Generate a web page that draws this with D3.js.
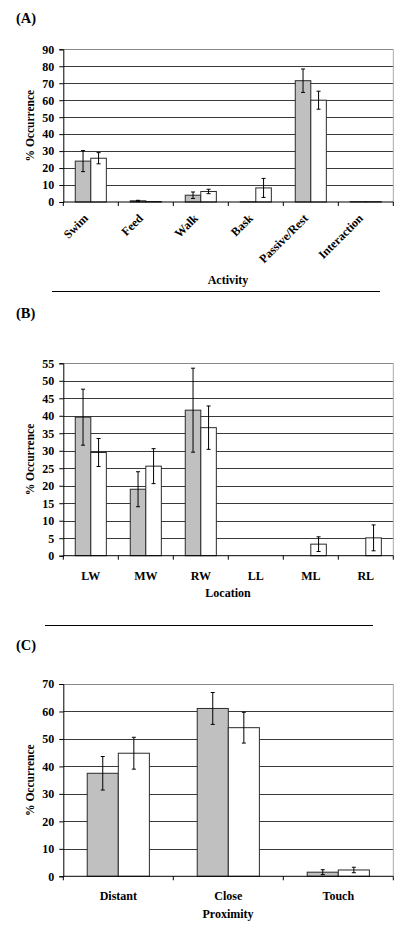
<!DOCTYPE html>
<html>
<head>
<meta charset="utf-8">
<script src="https://cdn.jsdelivr.net/npm/d3@7"></script>
<style>
  body { margin: 0; background: #fff; }
  svg text { font-family: "Liberation Serif", serif; font-weight: bold; fill: #000; }
</style>
</head>
<body>
<script>
// panel A - activity
var activityCats = ["Swim", "Feed", "Walk", "Bask", "Passive/Rest", "Interaction"];
var activityGrey = [24.1, 0.7, 4.0, 0.1, 71.5, 0.2];
var activityGreyErr = [6.2, 0.3, 1.9, 0, 6.9, 0];
var activityWhite = [25.8, 0.3, 6.2, 8.3, 60.0, 0.2];
var activityWhiteErr = [3.3, 0, 1.3, 5.6, 5.3, 0];
var activityTicks = [0, 10, 20, 30, 40, 50, 60, 70, 80, 90];

// panel B - location
var locationCats = ["LW", "MW", "RW", "LL", "ML", "RL"];
var locationGrey = [39.6, 19.0, 41.6, 0, 0, 0];
var locationGreyErr = [8.0, 5.0, 12.0, 0, 0, 0];
var locationWhite = [29.5, 25.6, 36.6, 0, 3.3, 5.1];
var locationWhiteErr = [4.0, 5.0, 6.2, 0, 2.1, 3.7];
var locationTicks = [0, 5, 10, 15, 20, 25, 30, 35, 40, 45, 50, 55];

// panel C - proximity
var proximityCats = ["Distant", "Close", "Touch"];
var proximityGrey = [37.5, 61.1, 1.5];
var proximityGreyErr = [6.1, 5.8, 0.9];
var proximityWhite = [44.8, 54.1, 2.3];
var proximityWhiteErr = [5.8, 5.6, 1.0];
var proximityTicks = [0, 10, 20, 30, 40, 50, 60, 70];

var svg = d3.select("body").append("svg").attr("width", 409).attr("height", 931)
  .attr("font-family", "Liberation Serif");

function drawPanel(p) {
  var g = svg.append("g");

  var x = d3.scaleBand().domain(p.cats).range([63.3, 393.3]).padding(0);
  var y = d3.scaleLinear().domain([0, p.ticks[p.ticks.length - 1]]).range([p.bottom, p.top]);
  var bw = x.bandwidth();
  var sub = d3.scaleBand().domain(["grey", "white"]).range([bw * 0.2175, bw * 0.7825]);

  g.append("text").attr("x", 16).attr("y", p.letterY).attr("font-size", 14.5).text(p.letter);

  // gridlines
  g.selectAll("line.grid").data(p.ticks.slice(1)).enter().append("line")
    .attr("class", "grid")
    .attr("x1", 63.3).attr("x2", 393.3)
    .attr("y1", function(d){ return Math.round(y(d)) + 0.5; })
    .attr("y2", function(d){ return Math.round(y(d)) + 0.5; })
    .attr("stroke", function(d, i){ return i == p.ticks.length - 2 ? "#888" : "#3a3a3a"; })
    .attr("stroke-width", 1);

  // right border
  g.append("line").attr("x1", 393.3).attr("x2", 393.3).attr("y1", p.top).attr("y2", p.bottom)
    .attr("stroke", "#aaa");

  // bars
  var rows = p.cats.map(function(c, i){
    return [{cat: c, key: "grey", v: p.grey[i], e: p.greyErr[i]},
            {cat: c, key: "white", v: p.white[i], e: p.whiteErr[i]}];
  });
  var flat = [].concat.apply([], rows);

  g.selectAll("rect.bar").data(flat).enter().append("rect")
    .attr("class", "bar")
    .attr("x", function(d){ return x(d.cat) + sub(d.key); })
    .attr("y", function(d){ return y(d.v); })
    .attr("width", sub.bandwidth())
    .attr("height", function(d){ return y(0) - y(d.v); })
    .attr("fill", function(d){ return d.key == "grey" ? "#c0c0c0" : "#fff"; })
    .attr("stroke", "#2a2a2a")
    .attr("stroke-width", 1);

  // error bars
  var errs = flat.filter(function(d){ return d.e > 0; });
  var eg = g.selectAll("g.err").data(errs).enter().append("g").attr("class", "err")
    .attr("transform", function(d){ return "translate(" + (x(d.cat) + sub(d.key) + sub.bandwidth() / 2) + ",0)"; });
  eg.append("line").attr("x1", 0).attr("x2", 0)
    .attr("y1", function(d){ return y(d.v - d.e); })
    .attr("y2", function(d){ return y(d.v + d.e); })
    .attr("stroke", "#000");
  eg.append("line").attr("x1", -2).attr("x2", 2)
    .attr("y1", function(d){ return y(d.v - d.e); })
    .attr("y2", function(d){ return y(d.v - d.e); })
    .attr("stroke", "#000");
  eg.append("line").attr("x1", -2).attr("x2", 2)
    .attr("y1", function(d){ return y(d.v + d.e); })
    .attr("y2", function(d){ return y(d.v + d.e); })
    .attr("stroke", "#000");

  // y axis
  var ya = g.append("g").attr("transform", "translate(63.3,0)")
    .call(d3.axisLeft(y).tickValues(p.ticks).tickSize(4).tickPadding(5));
  ya.attr("font-family", "Liberation Serif").attr("font-size", 12);
  ya.selectAll("text").attr("font-size", 12).attr("font-weight", "bold");
  ya.selectAll("line, path").attr("stroke", "#000");

  // x axis line + boundary ticks
  g.append("line").attr("x1", 63.3).attr("x2", 393.3).attr("y1", p.bottom).attr("y2", p.bottom).attr("stroke", "#000");
  var bounds = p.cats.map(function(c){ return x(c); }).concat([x.range()[1]]);
  g.selectAll("line.xt").data(bounds).enter().append("line").attr("class", "xt")
    .attr("x1", function(d){ return d; }).attr("x2", function(d){ return d; })
    .attr("y1", p.bottom).attr("y2", p.bottom + 4).attr("stroke", "#000");

  // category labels
  var lab = g.selectAll("text.cat").data(p.cats).enter().append("text").attr("class", "cat")
    .attr("font-size", 12).text(function(d){ return d; });
  if (p.rotate) {
    lab.attr("text-anchor", "end")
      .attr("transform", function(d){ return "translate(" + (x(d) + bw / 2 - 2) + "," + (p.bottom + 17) + ") rotate(-45)"; });
  } else {
    lab.attr("text-anchor", "middle")
      .attr("x", function(d){ return x(d) + bw / 2; })
      .attr("y", p.catY);
  }

  // axis titles
  g.append("text").attr("text-anchor", "middle").attr("font-size", 12)
    .attr("x", 228).attr("y", p.titleY).text(p.title);
  g.append("text").attr("text-anchor", "middle").attr("font-size", 11.5)
    .attr("transform", "translate(34," + ((p.top + p.bottom) / 2) + ") rotate(-90)")
    .text("% Occurrence");

  if (p.rule) {
    g.append("line").attr("x1", p.rule[0]).attr("x2", p.rule[1]).attr("y1", p.rule[2]).attr("y2", p.rule[2])
      .attr("stroke", "#000").attr("stroke-width", 1);
  }
}

drawPanel({letter: "(A)", letterY: 23, cats: activityCats, grey: activityGrey, greyErr: activityGreyErr,
  white: activityWhite, whiteErr: activityWhiteErr, ticks: activityTicks, top: 49.3, bottom: 202,
  rotate: true, title: "Activity", titleY: 284, rule: [52, 380, 291.5]});

drawPanel({letter: "(B)", letterY: 318, cats: locationCats, grey: locationGrey, greyErr: locationGreyErr,
  white: locationWhite, whiteErr: locationWhiteErr, ticks: locationTicks, top: 363.3, bottom: 555.7,
  rotate: false, catY: 580, title: "Location", titleY: 597, rule: [45, 373, 625.5]});

drawPanel({letter: "(C)", letterY: 650, cats: proximityCats, grey: proximityGrey, greyErr: proximityGreyErr,
  white: proximityWhite, whiteErr: proximityWhiteErr, ticks: proximityTicks, top: 684, bottom: 876.3,
  rotate: false, catY: 900, title: "Proximity", titleY: 918});
</script>
</body>
</html>
